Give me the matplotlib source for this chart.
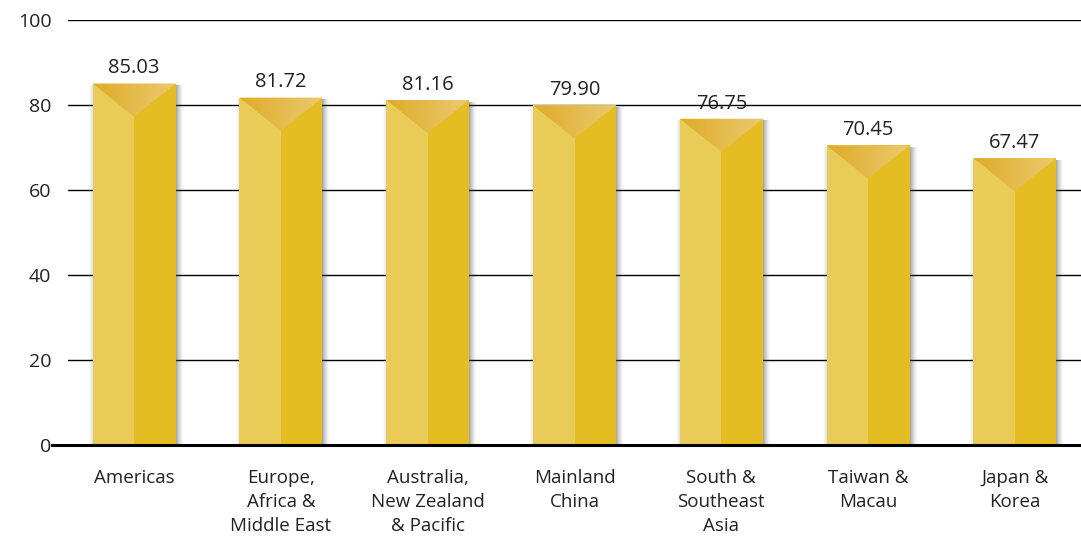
import numpy as np
import matplotlib.pyplot as plt
from matplotlib.patches import Polygon
from matplotlib.colors import LinearSegmentedColormap

plt.rcParams['font.family'] = ['Open Sans', 'DejaVu Sans']

regions = ['Americas', 'Europe,\nAfrica &\nMiddle East', 'Australia,\nNew Zealand\n& Pacific',
           'Mainland\nChina', 'South &\nSoutheast\nAsia', 'Taiwan &\nMacau', 'Japan &\nKorea']
scores = [85.03, 81.72, 81.16, 79.90, 76.75, 70.45, 67.47]
yticks = [0, 20, 40, 60, 80, 100]

width = 0.565
bevel = 7.8
left_col = '#e9cb57'
right_col = '#e4bd22'
top_cmap = LinearSegmentedColormap.from_list('top', ['#dfac2a', '#ebc96e'])

fig = plt.figure(figsize=(10.81, 5.38), dpi=100)
ax = fig.add_axes([0.063, 0.173, 0.937, 0.79])
ax.set_xlim(-0.45, 6.45)
ax.set_ylim(0, 100)

for y in yticks[1:]:
    ax.axhline(y, color='black', lw=1.0, zorder=1)

grad = np.linspace(0, 1, 256).reshape(1, -1)

# grey fade used for the drop shadow beside each bar
fade = np.zeros((1, 64, 4))
fade[..., :3] = 0.3
fade[0, :, 3] = np.linspace(0.65, 0.0, 64) ** 1.5
fade_left = fade[:, ::-1, :].copy()
fade_left[..., 3] *= 0.35

for i, v in enumerate(scores):
    x0 = i - width / 2
    ax.imshow(fade, aspect='auto', zorder=2, interpolation='bilinear',
              extent=(x0 + width, x0 + width + 0.05, 0, v - 0.5))
    ax.imshow(fade_left, aspect='auto', zorder=2, interpolation='bilinear',
              extent=(x0 - 0.03, x0, 0, v - 0.5))
    ax.bar(i - width / 4, v, width / 2, color=left_col, zorder=3)
    ax.bar(i + width / 4, v, width / 2, color=right_col, zorder=3)
    tri = Polygon([(x0, v), (x0 + width, v), (i, v - bevel)], closed=True,
                  facecolor='none', edgecolor='none', zorder=4)
    ax.add_patch(tri)
    im = ax.imshow(grad, cmap=top_cmap, aspect='auto', zorder=4,
                   extent=(x0, x0 + width, v - bevel, v))
    im.set_clip_path(tri)
    ax.text(i, v + 1.2, f'{v:.2f}', ha='center', va='bottom', fontsize=14.5,
            color='#222222', zorder=5)

ax.set_xlim(-0.45, 6.45)
ax.set_ylim(0, 100)

ax.set_xticks(range(len(regions)))
ax.set_xticklabels(regions, fontsize=13.5, color='#222222', linespacing=1.45)
ax.set_yticks(yticks)
ax.set_yticklabels([str(t) for t in yticks], fontsize=14, color='#222222')
ax.tick_params(axis='x', length=0, pad=17)
ax.tick_params(axis='y', length=0, pad=12)
for s in ['top', 'right', 'left', 'bottom']:
    ax.spines[s].set_visible(False)
ax.plot([-0.56, 6.45], [0, 0], color='black', lw=2.2, clip_on=False, zorder=6)

fig.savefig('out.png', dpi=100)
